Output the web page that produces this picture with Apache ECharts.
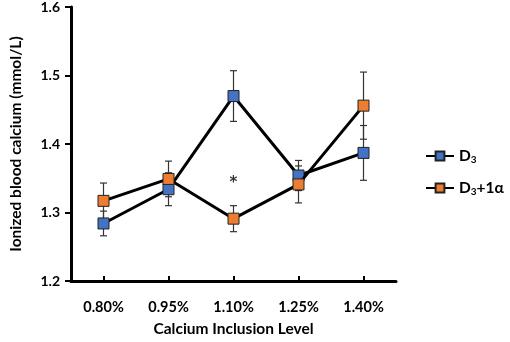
<!DOCTYPE html>
<html><head><meta charset="utf-8">
<script src="https://cdn.jsdelivr.net/npm/echarts@6/dist/echarts.min.js"></script>
<style>html,body{margin:0;padding:0;background:#fff}#c{width:510px;height:342px}</style>
</head><body><div id="c"></div>
<script>
var categories = ['0.80%', '0.95%', '1.10%', '1.25%', '1.40%'];
var d3Mean = [1.284, 1.334, 1.470, 1.354, 1.387];
var d3Err = [0.018, 0.024, 0.037, 0.022, 0.040];
var d31aMean = [1.317, 1.349, 1.291, 1.341, 1.456];
var d31aErr = [0.026, 0.026, 0.019, 0.027, 0.049];
var yTicks = [1.2, 1.3, 1.4, 1.5, 1.6];
var annotations = [{ category: '1.10%', value: 1.349, text: '*' }];

var FONT = 'Lato';
var BLUE = '#4472C4', ORANGE = '#ED7D31';

function errSeries(name, mean, err) {
  var data = mean.map(function (m, i) { return [i, m - err[i], m + err[i]]; });
  return {
    type: 'custom', name: name + '_err', z: 1, silent: true,
    data: data,
    renderItem: function (params, api) {
      var lo = api.coord([api.value(0), api.value(1)]);
      var hi = api.coord([api.value(0), api.value(2)]);
      var w = 3.5;
      var st = { stroke: '#333', lineWidth: 1.2 };
      return { type: 'group', children: [
        { type: 'line', shape: { x1: lo[0], y1: lo[1], x2: hi[0], y2: hi[1] }, style: st },
        { type: 'line', shape: { x1: lo[0] - w, y1: lo[1], x2: lo[0] + w, y2: lo[1] }, style: st },
        { type: 'line', shape: { x1: hi[0] - w, y1: hi[1], x2: hi[0] + w, y2: hi[1] }, style: st }
      ]};
    }
  };
}

var chart = echarts.init(document.getElementById('c'));
chart.setOption({
  animation: false,
  backgroundColor: '#fff',
  grid: { left: 59, right: 114, top: 7, bottom: 58, containLabel: false },
  xAxis: {
    type: 'category', data: categories, boundaryGap: true,
    name: 'Calcium Inclusion Level', nameLocation: 'middle', nameGap: 40,
    nameTextStyle: { fontFamily: FONT, fontWeight: 'bold', fontSize: 15.5, color: '#000' },
    axisLine: { lineStyle: { color: '#000', width: 3 } },
    axisTick: { show: true, inside: true, alignWithLabel: true, length: 5, lineStyle: { color: '#000', width: 2 } },
    axisLabel: { fontFamily: FONT, fontWeight: 'bold', fontSize: 14.5, color: '#000', margin: 19 },
    splitLine: { show: false }
  },
  yAxis: {
    type: 'value', min: yTicks[0], max: yTicks[yTicks.length - 1], interval: 0.1,
    name: 'Ionized blood calcium (mmol/L)', nameLocation: 'middle', nameGap: 47,
    nameTextStyle: { fontFamily: FONT, fontWeight: 'bold', fontSize: 15.5, color: '#000' },
    axisLine: { show: true, lineStyle: { color: '#000', width: 3 } },
    axisTick: { show: true, length: 6, lineStyle: { color: '#000', width: 2 } },
    axisLabel: { fontFamily: FONT, fontWeight: 'bold', fontSize: 14, color: '#000', margin: 11,
      formatter: function (v) { return v.toFixed(1); } },
    splitLine: { show: false }
  },
  legend: {
    orient: 'vertical', left: 420, top: 143, itemWidth: 28, itemHeight: 11, itemGap: 15,
    data: ['D3', 'D3+1a'],
    formatter: function (n) { return n === 'D3' ? '{a|D}{s|3}' : '{a|D}{s|3}{a|+1α}'; },
    textStyle: {
      rich: {
        a: { fontFamily: FONT, fontWeight: 'bold', fontSize: 15.5, color: '#000' },
        s: { fontFamily: FONT, fontWeight: 'bold', fontSize: 10, color: '#000', verticalAlign: 'bottom', padding: [8, 0, 0, 0] }
      }
    }
  },
  series: [
    errSeries('D3', d3Mean, d3Err),
    errSeries('D3+1a', d31aMean, d31aErr),
    {
      type: 'line', name: 'D3', data: d3Mean, z: 3,
      symbol: 'rect', symbolSize: 11,
      lineStyle: { color: '#000', width: 3 },
      itemStyle: { color: BLUE, borderColor: '#222', borderWidth: 1 }
    },
    {
      type: 'line', name: 'D3+1a', data: d31aMean, z: 4,
      symbol: 'rect', symbolSize: 11,
      lineStyle: { color: '#000', width: 3 },
      itemStyle: { color: ORANGE, borderColor: '#222', borderWidth: 1 }
    },
    {
      type: 'scatter', name: 'annot', symbolSize: 0, silent: true, z: 5,
      data: annotations.map(function (a) { return { value: [a.category, a.value], label: { formatter: a.text } }; }),
      label: { show: true, position: 'inside', offset: [0, 4], fontFamily: 'DejaVu Sans', fontWeight: 'bold', fontSize: 15, color: '#000' }
    }
  ]
});
</script></body></html>
